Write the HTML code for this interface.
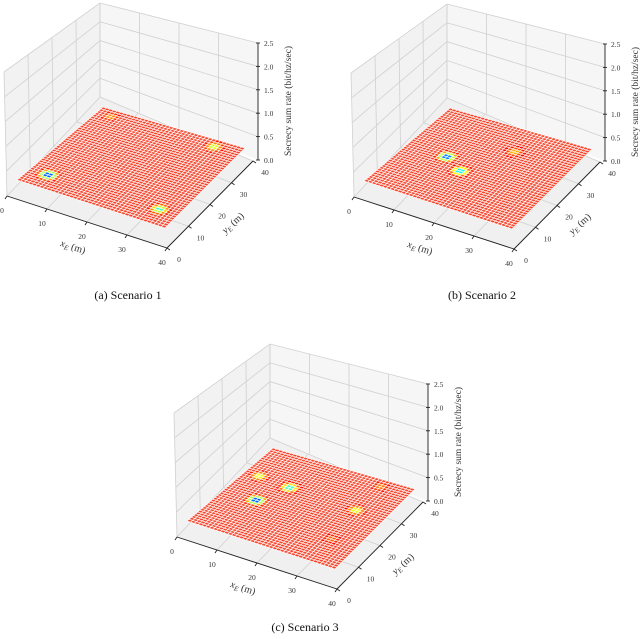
<!DOCTYPE html>
<html><head><meta charset="utf-8"><style>
html,body{margin:0;padding:0;background:#fff;}
svg{display:block;font-family:"Liberation Serif",serif;}
</style></head><body>
<svg id="fig" width="640" height="639" viewBox="0 0 640 639"></svg>
<script>
// ---- data ----
const panelNames = ["(a)  Scenario 1", "(b)  Scenario 2", "(c)  Scenario 3"];
const xTicks = [0, 10, 20, 30, 40];
const yTicks = [0, 10, 20, 30, 40];
const zTicks = [0.0, 0.5, 1.0, 1.5, 2.0, 2.5];
// hotspots: x position, y position, normalized min value (0 = blue ... 1 = red)
const hotX1 = [5, 35, 33, 4];      const hotY1 = [6, 6.5, 37, 37];     const hotV1 = [0.12, 0.45, 0.6, 0.8];
const hotX2 = [11, 17, 24];        const hotY2 = [20, 16, 30];         const hotV2 = [0.15, 0.35, 0.75];
const hotX3 = [9, 4, 13, 32, 32, 33]; const hotY3 = [17, 27, 26, 25, 37, 11]; const hotV3 = [0.12, 0.62, 0.4, 0.62, 0.82, 0.85];

const NS = "http://www.w3.org/2000/svg";
const svg = document.getElementById("fig");
function mk(tag, attrs, parent) { const e = document.createElementNS(NS, tag); for (const k in attrs) e.setAttribute(k, attrs[k]); parent.appendChild(e); return e; }
function bl(q, u, v) {
  const a = q[0], b = q[1], c = q[2], d = q[3];
  return [a[0]*(1-u)*(1-v)+b[0]*u*(1-v)+c[0]*u*v+d[0]*(1-u)*v, a[1]*(1-u)*(1-v)+b[1]*u*(1-v)+c[1]*u*v+d[1]*(1-u)*v];
}
function lerp(p, q, t) { return [p[0]+(q[0]-p[0])*t, p[1]+(q[1]-p[1])*t]; }
function jet(t) {
  const r = Math.min(1, Math.max(0, 1.5 - Math.abs(4*t - 3)));
  const g = Math.min(1, Math.max(0, 1.5 - Math.abs(4*t - 2)));
  const b = Math.min(1, Math.max(0, 1.5 - Math.abs(4*t - 1)));
  return `rgb(${Math.round(r*255)},${Math.round(g*255)},${Math.round(b*255)})`;
}
const F = [[7,196],[167,248],[253,161],[100,97]];
const TOPL = [4,72], TOPB = [100,3], TOPR = [258,43];
const S = [[17,180],[165,228],[245,148],[103,107]];
const zBase = 160, zPix = 46.8, zX = 258;
const fx = x => x/40, fy = y => y/40;
const zY = z => zBase - z*zPix;

function drawPanel(off, hx, hy, hv, cap, capPos, idx) {
  const g = mk("g", {transform:`translate(${off[0]},${off[1]})`}, svg);
  
  
  const lp = mk("polygon", {points:[F[0],TOPL,TOPB,F[3]].map(p=>p.join(",")).join(" "), fill:"#f2f2f2", stroke:"none"}, g);
   
  const rp = mk("polygon", {points:[F[3],TOPB,TOPR,[zX,zBase]].map(p=>p.join(",")).join(" "), fill:"#f6f6f6", stroke:"none"}, g);
   
  const fp = mk("polygon", {points:F.map(p=>p.join(",")).join(" "), fill:"#f0f0f0", stroke:"none"}, g);
   
  const gs = {stroke:"#d0d0d0", "stroke-width":0.8, fill:"none"};
  zTicks.forEach(z => {
    if (z === 0) return;
    const t = z/2.5;
    const a = lerp(F[0], TOPL, t), b = lerp(F[3], TOPB, t), c = lerp([zX,zBase], TOPR, t);
    const l = mk("polyline", Object.assign({points:[a,b,c].map(p=>p.join(",")).join(" ")}, gs), g);
     
  });
  yTicks.forEach(y => { const t = fy(y); const a = lerp(F[0],F[3],t), b = lerp(TOPL,TOPB,t);
    const l = mk("line", Object.assign({x1:a[0],y1:a[1],x2:b[0],y2:b[1]}, gs), g);
      });
  xTicks.forEach(x => { const t = fx(x); const a = lerp(F[3],[zX,zBase],t), b = lerp(TOPB,TOPR,t);
    const l = mk("line", Object.assign({x1:a[0],y1:a[1],x2:b[0],y2:b[1]}, gs), g);
      });
  xTicks.forEach(x => { const a = bl(F, fx(x), 0), b = bl(F, fx(x), 1);
    const l = mk("line", Object.assign({x1:a[0],y1:a[1],x2:b[0],y2:b[1]}, gs), g);
      });
  yTicks.forEach(y => { const a = bl(F, 0, fy(y)), b = bl(F, 1, fy(y));
    const l = mk("line", Object.assign({x1:a[0],y1:a[1],x2:b[0],y2:b[1]}, gs), g);
      });
  const sg = mk("g", {}, g);
   
  const N = 40;
  for (let i = 0; i < N; i++) for (let j = 0; j < N; j++) {
    const cx = (i+0.5)*40/N, cy = (j+0.5)*40/N;
    let val = 1;
    for (let k = 0; k < hx.length; k++) {
      const d2 = (cx-hx[k])**2 + (cy-hy[k])**2;
      val = Math.min(val, 1 - (1-hv[k])*Math.exp(-d2/(2*1.25*1.25)));
    }
    const col = val >= 0.97 ? "#f5452c" : jet(Math.min(0.88, val*0.9));
    const pts = [bl(S,i/N,j/N), bl(S,(i+1)/N,j/N), bl(S,(i+1)/N,(j+1)/N), bl(S,i/N,(j+1)/N)];
    const c = mk("polygon", {points:pts.map(p=>p[0].toFixed(1)+","+p[1].toFixed(1)).join(" "), fill:col, stroke:"#fff", "stroke-width":0.75, "stroke-opacity":0.85}, sg);
     
  }
  const ax = {stroke:"#222", "stroke-width":0.9};
  const xa = mk("line", Object.assign({x1:F[0][0],y1:F[0][1],x2:F[1][0],y2:F[1][1]}, ax), g);
   
  const ya = mk("line", Object.assign({x1:F[1][0],y1:F[1][1],x2:F[2][0],y2:F[2][1]}, ax), g);
   
  const za = mk("line", Object.assign({x1:zX,y1:zY(0),x2:zX,y2:zY(2.5)}, ax), g);
   
  const ts = {"font-size":7.5, fill:"#333", "text-anchor":"middle"};
  xTicks.forEach(x => { const p = bl(F, fx(x), 0);
    mk("line", Object.assign({x1:p[0],y1:p[1],x2:p[0]-2,y2:p[1]+3}, ax), g);
    const t = mk("text", Object.assign({x:p[0]-5, y:p[1]+17}, ts), g); t.textContent = x;
      });
  yTicks.forEach(y => { const p = bl(F, 1, fy(y));
    mk("line", Object.assign({x1:p[0],y1:p[1],x2:p[0]+3,y2:p[1]+2}, ax), g);
    const t = mk("text", Object.assign({x:p[0]+12, y:p[1]+14}, ts), g); t.textContent = y;
      });
  zTicks.forEach(z => { const yy = zY(z);
    mk("line", Object.assign({x1:zX-2,y1:yy,x2:zX+2,y2:yy}, ax), g);
    const t = mk("text", {x:zX+6, y:yy+3, "font-size":7.5, fill:"#333"}, g); t.textContent = z.toFixed(1);
      });
  const xl = mk("text", {x:73, y:250, "font-size":10, fill:"#333", "text-anchor":"middle", transform:"rotate(18 73 247)"}, g);
  xl.innerHTML = '<tspan font-style="italic">x</tspan><tspan font-size="7" font-style="italic" dy="2">E</tspan><tspan dy="-2"> (m)</tspan>';
   
  const yl = mk("text", {x:233, y:226, "font-size":10, fill:"#333", "text-anchor":"middle", transform:"rotate(-42 233 223)"}, g);
  yl.innerHTML = '<tspan font-style="italic">y</tspan><tspan font-size="7" font-style="italic" dy="2">E</tspan><tspan dy="-2"> (m)</tspan>';
   
  const zl = mk("text", {x:291, y:101, "font-size":9.5, fill:"#333", "text-anchor":"middle", transform:"rotate(-90 291 101)"}, g);
  zl.textContent = "Secrecy sum rate (bit/hz/sec)";
   
  const ct = mk("text", {x:capPos[0], y:capPos[1], "font-size":12, fill:"#111", "text-anchor":"middle"}, svg);
  ct.textContent = cap;
   
}
drawPanel([0,0], hotX1, hotY1, hotV1, panelNames[0], [128,299], 0);
drawPanel([347,1], hotX2, hotY2, hotV2, panelNames[1], [482,299], 1);
drawPanel([170,341], hotX3, hotY3, hotV3, panelNames[2], [305,631], 2);
</script>
</body></html>
